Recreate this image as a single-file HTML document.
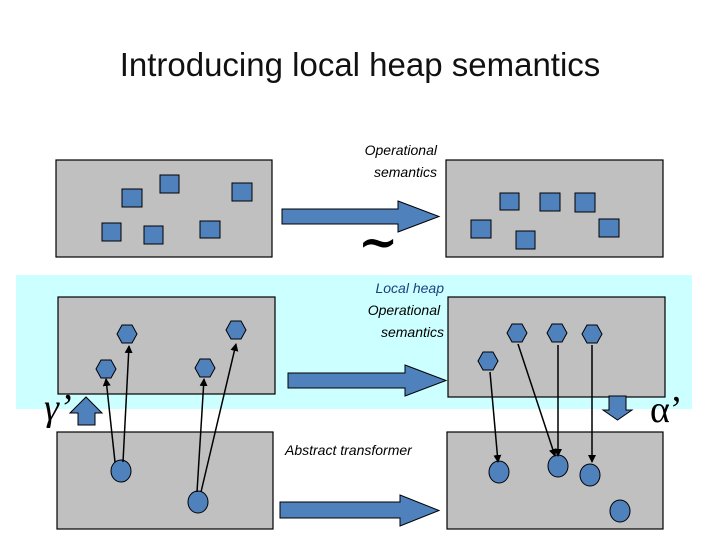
<!DOCTYPE html>
<html><head><style>
body{margin:0;width:720px;height:540px;background:#fff;overflow:hidden;position:relative;font-family:"Liberation Sans",sans-serif}
.t{position:absolute;font-style:italic;font-size:14px;line-height:22px;white-space:nowrap}
</style></head><body>
<div style="position:absolute;left:0;width:720px;top:46px;text-align:center;font-size:33px;color:#111">Introducing local heap semantics</div>
<svg width="720" height="540" style="position:absolute;left:0;top:0">
<defs><marker id="a" markerWidth="8" markerHeight="8" refX="7" refY="4" orient="auto" markerUnits="userSpaceOnUse"><path d="M0,0L8,4L0,8z" fill="#000"/></marker></defs>
<rect x="16" y="275" width="676" height="134" fill="#ccffff"/>
<g fill="#c0c0c0" stroke="#000" stroke-width="1.2">
<rect x="56" y="160" width="216" height="97"/><rect x="446" y="160" width="217" height="97"/>
<rect x="58" y="297" width="217" height="97"/><rect x="448" y="297" width="217" height="100"/>
<rect x="57" y="432" width="216" height="97"/><rect x="447" y="432" width="216" height="97"/>
</g>
<g fill="#4f81bd" stroke="#000" stroke-width="1">
<rect x="122" y="189" width="20" height="18"/><rect x="160" y="175" width="19" height="18"/><rect x="232" y="183" width="20" height="18"/>
<rect x="102" y="223" width="19" height="18"/><rect x="144" y="226" width="19" height="18"/><rect x="200" y="221" width="20" height="17"/>
<rect x="500" y="193" width="19" height="17"/><rect x="540" y="193" width="20" height="18"/><rect x="575" y="193" width="20" height="19"/>
<rect x="471" y="220" width="20" height="18"/><rect x="516" y="231" width="19" height="18"/><rect x="599" y="219" width="20" height="18"/>
</g>
<g fill="#4f81bd" stroke="#000" stroke-width="1">
<path d="M282,209H398V201L439,216.5L398,232V224H282z"/>
<path d="M288,373H405V365L446,380.5L405,396V388H288z"/>
<path d="M280,502H400V495L439,510.5L400,526V518H280z"/>
<path d="M70,413L86,397L102,413H95V425H78V413z"/>
<path d="M609,396H626V410H632L617.5,420L603,410H609z"/>
</g>
<g fill="#4f81bd" stroke="#000" stroke-width="1">
<path id="h" d="M-10,0L-5,-9H5L10,0L5,9H-5z" transform="translate(106,369)"/>
<use href="#h" transform="translate(21,-35)"/><use href="#h" transform="translate(99,-1)"/><use href="#h" transform="translate(130,-39)"/>
<use href="#h" transform="translate(411,-36)"/><use href="#h" transform="translate(451,-36)"/><use href="#h" transform="translate(486,-35)"/><use href="#h" transform="translate(382,-8)"/>
<ellipse cx="121" cy="471" rx="10" ry="11"/><ellipse cx="198" cy="502" rx="10" ry="11"/>
<ellipse cx="499" cy="472" rx="10" ry="11"/><ellipse cx="558" cy="466" rx="10" ry="11"/><ellipse cx="590" cy="475" rx="10" ry="11"/><ellipse cx="620" cy="511" rx="10" ry="11"/>
</g>
<g stroke="#000" stroke-width="1.5" marker-end="url(#a)">
<line x1="115" y1="462" x2="106" y2="379"/><line x1="123" y1="462" x2="129" y2="346"/>
<line x1="197" y1="492" x2="204" y2="379"/><line x1="201" y1="492" x2="236" y2="344"/>
<line x1="490" y1="372" x2="498" y2="462"/><line x1="518" y1="344" x2="555" y2="456"/>
<line x1="558" y1="345" x2="558" y2="456"/><line x1="592" y1="345" x2="592" y2="462"/>
</g>
<text x="358" y="258" font-family="DejaVu Serif,serif" font-size="48" font-weight="bold">~</text>
<text x="44" y="420" font-family="Liberation Serif,serif" font-size="38" font-style="italic">γ’</text>
<text x="650" y="422" font-family="Liberation Serif,serif" font-size="38">α’</text>
</svg>
<div class="t" style="right:283px;top:139px;text-align:right">Operational<br>&nbsp;semantics</div>
<div class="t" style="right:276px;top:277px;text-align:right"><span style="color:#1f3f7f">Local heap</span><br>Operational&nbsp;<br>semantics</div>
<div class="t" style="left:285px;top:439px">Abstract transformer</div>
</body></html>
